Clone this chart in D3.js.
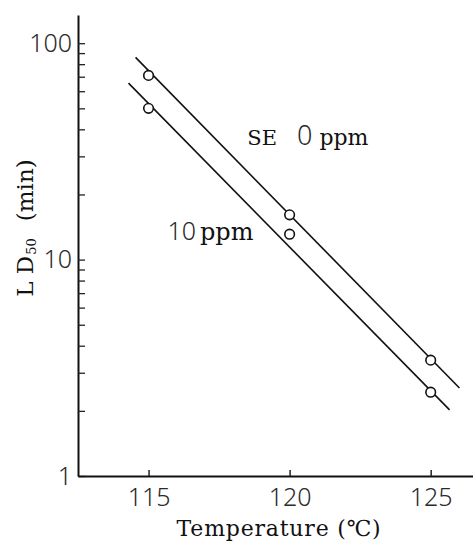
<!DOCTYPE html>
<html>
<head>
<meta charset="utf-8">
<script src="https://cdn.jsdelivr.net/npm/d3@7/dist/d3.min.js"></script>
<style>
  html, body { margin: 0; padding: 0; background: #fff; }
  svg { display: block; }
  .tick-num { font-family: 'Noto Sans', 'Liberation Sans', sans-serif; font-weight: 300; fill: #2a2a2a; }
  .serif { font-family: 'DejaVu Serif', 'Liberation Serif', serif; fill: #111; }
</style>
</head>
<body>
<div id="chart"></div>
<script>
// LD50 vs temperature, log scale, two SE concentrations

var temps = [115, 120, 125];
var ld50_0ppm = [71, 16.1, 3.43];
var ld50_10ppm = [50, 13.1, 2.44];

// fitted lines, read as endpoints (temperature, minutes)
var fit0_t = [114.54, 126.02];
var fit0_v = [86, 2.55];
var fit10_t = [114.29, 125.67];
var fit10_v = [65.4, 2.02];

var xTicks = [115, 120, 125];
var yTicks = [2, 3, 4, 5, 6, 7, 8, 9, 10, 20, 30, 40, 50, 60, 70, 80, 90, 100];
var yLabels = [1, 10, 100];

var W = 473, H = 541;

var svg = d3.select('#chart').append('svg')
  .attr('width', W)
  .attr('height', H);

var x = d3.scaleLinear().domain([112.5, 126.5]).range([78, 473]);
var y = d3.scaleLog().domain([1, 135]).range([476, 15]);

// y axis
var yAxis = d3.axisLeft(y)
  .tickValues(yTicks.concat([1]))
  .tickSizeInner(-7)
  .tickSizeOuter(0)
  .tickPadding(6)
  .tickFormat(function (d) { return yLabels.indexOf(d) >= 0 ? d : ''; });

var gy = svg.append('g')
  .attr('transform', 'translate(' + x(112.5) + ',0)')
  .call(yAxis);
gy.select('.domain').attr('stroke', '#111').attr('stroke-width', 2);
gy.selectAll('.tick line').attr('stroke', '#222').attr('stroke-width', 1.3);
gy.selectAll('.tick text')
  .attr('class', 'tick-num')
  .attr('font-size', 25)
  .attr('font-family', null);

// x axis
var xAxis = d3.axisBottom(x)
  .tickValues(xTicks)
  .tickSizeInner(-6)
  .tickSizeOuter(0)
  .tickPadding(12);

var gx = svg.append('g')
  .attr('transform', 'translate(0,' + y(1) + ')')
  .call(xAxis);
gx.select('.domain').attr('stroke', '#111').attr('stroke-width', 2);
gx.selectAll('.tick line').attr('stroke', '#222').attr('stroke-width', 1.5);
gx.selectAll('.tick text')
  .attr('class', 'tick-num')
  .attr('font-size', 25)
  .attr('font-family', null);

// fitted lines
var line = d3.line()
  .x(function (d) { return x(d[0]); })
  .y(function (d) { return y(d[1]); });

svg.append('path')
  .datum(d3.zip(fit0_t, fit0_v))
  .attr('d', line)
  .attr('fill', 'none')
  .attr('stroke', '#111')
  .attr('stroke-width', 1.6);

svg.append('path')
  .datum(d3.zip(fit10_t, fit10_v))
  .attr('d', line)
  .attr('fill', 'none')
  .attr('stroke', '#111')
  .attr('stroke-width', 1.6);

// points
var pts = d3.zip(temps, ld50_0ppm).concat(d3.zip(temps, ld50_10ppm));
svg.selectAll('.pt')
  .data(pts)
  .join('circle')
  .attr('class', 'pt')
  .attr('cx', function (d) { return x(d[0]); })
  .attr('cy', function (d) { return y(d[1]); })
  .attr('r', 4.8)
  .attr('fill', '#fff')
  .attr('stroke', '#111')
  .attr('stroke-width', 1.6);

// series labels
var lab0 = svg.append('text')
  .attr('x', x(118.5))
  .attr('y', y(33.8));
lab0.append('tspan').attr('class', 'serif').attr('font-size', 21).text('SE');
lab0.append('tspan').attr('class', 'tick-num').attr('font-size', 27).attr('dx', 20).text('0');
lab0.append('tspan').attr('class', 'serif').attr('font-size', 22).attr('dx', 7).text('ppm');

var lab10 = svg.append('text')
  .attr('x', x(115.67))
  .attr('y', y(12.3));
lab10.append('tspan').attr('class', 'tick-num').attr('font-size', 25).text('10');
lab10.append('tspan').attr('class', 'serif').attr('font-size', 24).attr('dx', 4).text('ppm');

// axis titles
svg.append('text')
  .attr('class', 'serif')
  .attr('x', 279)
  .attr('y', 536)
  .attr('text-anchor', 'middle')
  .attr('font-size', 22)
  .attr('letter-spacing', 0.8)
  .text('Temperature (\u2103)');

var yl = svg.append('text')
  .attr('class', 'serif')
  .attr('transform', 'translate(33,' + 228 + ') rotate(-90)')
  .attr('text-anchor', 'middle')
  .attr('font-size', 23);
yl.append('tspan').text('L D');
yl.append('tspan').attr('font-size', 13).attr('dy', 3).attr('dx', 1).text('50');
yl.append('tspan').attr('dy', -3).attr('dx', 17).text('(min)');
</script>
</body>
</html>
